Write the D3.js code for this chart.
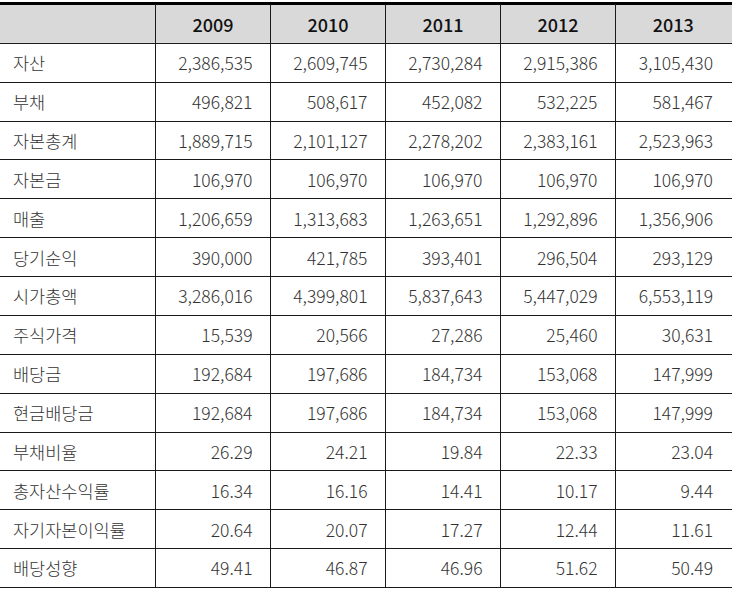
<!DOCTYPE html>
<html><head><meta charset="utf-8">
<script src="https://cdn.jsdelivr.net/npm/d3@7"></script>
<style>body{margin:0;background:#fff}svg{display:block}</style>
</head><body>
<script>
const years = ["2009","2010","2011","2012","2013"];
const labels = ["자산","부채","자본총계","자본금","매출","당기순익","시가총액","주식가격","배당금","현금배당금","부채비율","총자산수익률","자기자본이익률","배당성향"];
const v2009 = ["2,386,535","496,821","1,889,715","106,970","1,206,659","390,000","3,286,016","15,539","192,684","192,684","26.29","16.34","20.64","49.41"];
const v2010 = ["2,609,745","508,617","2,101,127","106,970","1,313,683","421,785","4,399,801","20,566","197,686","197,686","24.21","16.16","20.07","46.87"];
const v2011 = ["2,730,284","452,082","2,278,202","106,970","1,263,651","393,401","5,837,643","27,286","184,734","184,734","19.84","14.41","17.27","46.96"];
const v2012 = ["2,915,386","532,225","2,383,161","106,970","1,292,896","296,504","5,447,029","25,460","153,068","153,068","22.33","10.17","12.44","51.62"];
const v2013 = ["3,105,430","581,467","2,523,963","106,970","1,356,906","293,129","6,553,119","30,631","147,999","147,999","23.04","9.44","11.61","50.49"];
const series = [v2009, v2010, v2011, v2012, v2013];

(function(){
const W = 732, H = 592;
const svg = d3.select("body").append("svg").attr("width", W).attr("height", H);
const font = "'Noto Sans CJK KR','Noto Sans',sans-serif";

const yTop = 4, yBot = 587;
const nRows = labels.length + 1;
const y = d3.scaleBand().domain(d3.range(nRows)).range([yTop, yBot]);
const colEdges = [0, 155.5, 270.5, 385.5, 500.5, 615.5, 731];
const x = d3.scaleOrdinal().domain(d3.range(6)).range(colEdges.slice(0, 6));
const colW = i => colEdges[i + 1] - colEdges[i];

svg.append("rect").attr("x", 0).attr("y", y(0)).attr("width", W).attr("height", y.bandwidth()).attr("fill", "#d9d9d9");

svg.selectAll("line.h").data(d3.range(1, nRows + 1)).join("line")
  .attr("x1", 0).attr("x2", W)
  .attr("y1", i => Math.round(yTop + i * y.bandwidth()) + 0.5)
  .attr("y2", i => Math.round(yTop + i * y.bandwidth()) + 0.5)
  .attr("stroke", "#1a1a1a").attr("stroke-width", 1);
svg.append("line").attr("x1", 0).attr("x2", W).attr("y1", 3.5).attr("y2", 3.5).attr("stroke", "#000").attr("stroke-width", 3);

svg.selectAll("line.v").data(colEdges.slice(1, 6)).join("line")
  .attr("x1", d => d).attr("x2", d => d).attr("y1", yTop).attr("y2", yBot)
  .attr("stroke", "#1a1a1a").attr("stroke-width", 1);

svg.selectAll("text.yr").data(years).join("text")
  .attr("x", (d, i) => x(i + 1) + colW(i + 1) / 2)
  .attr("y", y(0) + y.bandwidth() / 2)
  .attr("dy", "0.45em").attr("text-anchor", "middle")
  .attr("font-family", font).attr("font-size", 18).attr("font-weight", 500)
  .attr("fill", "#111").text(d => d);

svg.selectAll("text.lbl").data(labels).join("text")
  .attr("x", 13)
  .attr("y", (d, i) => y(i + 1) + y.bandwidth() / 2)
  .attr("dy", "0.45em")
  .attr("font-family", font).attr("font-size", 17.5).attr("font-weight", 300)
  .attr("fill", "#333").text(d => d);

series.forEach((s, c) => {
  svg.append("g").selectAll("text").data(s).join("text")
    .attr("x", x(c + 1) + colW(c + 1) - 18)
    .attr("y", (d, i) => y(i + 1) + y.bandwidth() / 2)
    .attr("dy", "0.45em").attr("text-anchor", "end")
    .attr("font-family", font).attr("font-size", 17.5).attr("font-weight", 300)
    .attr("fill", "#333").text(d => d);
});
})();
</script>
</body></html>
